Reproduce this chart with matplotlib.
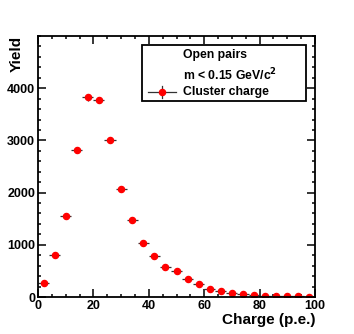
import matplotlib
matplotlib.use("Agg")
import matplotlib.pyplot as plt
import numpy as np
from matplotlib.patches import Rectangle
from matplotlib.lines import Line2D
from matplotlib.ticker import MultipleLocator

plt.rcParams['font.family'] = ['Liberation Sans', 'DejaVu Sans']
plt.rcParams['font.weight'] = 'bold'

# bin centres (p.e.) and yields
charge = [2, 6, 10, 14, 18, 22, 26, 30, 34, 38, 42, 46, 50,
          54, 58, 62, 66, 70, 74, 78, 82, 86, 90, 94, 98]
yield_ = [275, 805, 1557, 2815, 3822, 3770, 3000, 2075, 1480, 1040, 780, 580, 490,
          340, 250, 160, 120, 72, 52, 38, 26, 20, 15, 14, 8]
half_width = 2

fig = plt.figure(figsize=(3.54, 3.34), dpi=100)
ax = fig.add_axes([38/354, 1-297/334, (315-38)/354, (297-36)/334])

y = np.array(yield_, dtype=float)
ax.errorbar(charge, y, xerr=half_width, yerr=np.sqrt(y), fmt='o', color='red',
            ms=4.4, ecolor='#333333', elinewidth=0.9, capsize=0, mec='red')

ax.set_xlim(0, 100)
ax.set_ylim(0, 5000)
ax.xaxis.set_major_locator(MultipleLocator(20))
ax.xaxis.set_minor_locator(MultipleLocator(5))
ax.yaxis.set_major_locator(MultipleLocator(1000))
ax.yaxis.set_minor_locator(MultipleLocator(200))
ax.set_yticks([0, 1000, 2000, 3000, 4000])
ax.tick_params(which='both', direction='in', top=True, right=True, width=1.1,
               labelsize=9, pad=2)
ax.tick_params(which='major', length=5.5)
ax.tick_params(which='minor', length=2.5)
for s in ax.spines.values():
    s.set_linewidth(1.3)

ax.set_xlabel('Charge (p.e.)', loc='right', fontsize=11, fontweight='bold', labelpad=1)
ax.set_ylabel('Yield', loc='top', fontsize=11, fontweight='bold')
ax.yaxis.set_label_coords(-14/277, 1.0)

# legend box drawn by hand (ROOT TLegend style)
def fx(px):
    return px/354
def fy(py):
    return 1-py/334

fig.patches.append(Rectangle((fx(142), fy(101)), fx(306)-fx(142), fy(45)-fy(101),
                             transform=fig.transFigure, fill=True, fc='white',
                             ec='black', lw=1.3, zorder=2))
fig.text(fx(183), fy(55), 'Open pairs', fontsize=8.8, fontweight='bold', va='center', zorder=6)
fig.text(fx(183), fy(75), 'm < 0.15 GeV/c$^\\mathbf{2}$', fontsize=8.8, fontweight='bold',
         va='center', zorder=6)
fig.text(fx(183), fy(92), 'Cluster charge', fontsize=8.8, fontweight='bold', va='center', zorder=6)
fig.lines.append(Line2D([fx(148), fx(176)], [fy(92), fy(92)], transform=fig.transFigure,
                        color='#333333', lw=0.9, zorder=6))
fig.lines.append(Line2D([fx(162), fx(162)], [fy(86), fy(98)], transform=fig.transFigure,
                        color='#333333', lw=0.9, zorder=6))
fig.lines.append(Line2D([fx(162)], [fy(92)], transform=fig.transFigure, marker='o',
                        color='red', ms=4.4, ls='none', zorder=7))

fig.savefig('out.png', dpi=100)
